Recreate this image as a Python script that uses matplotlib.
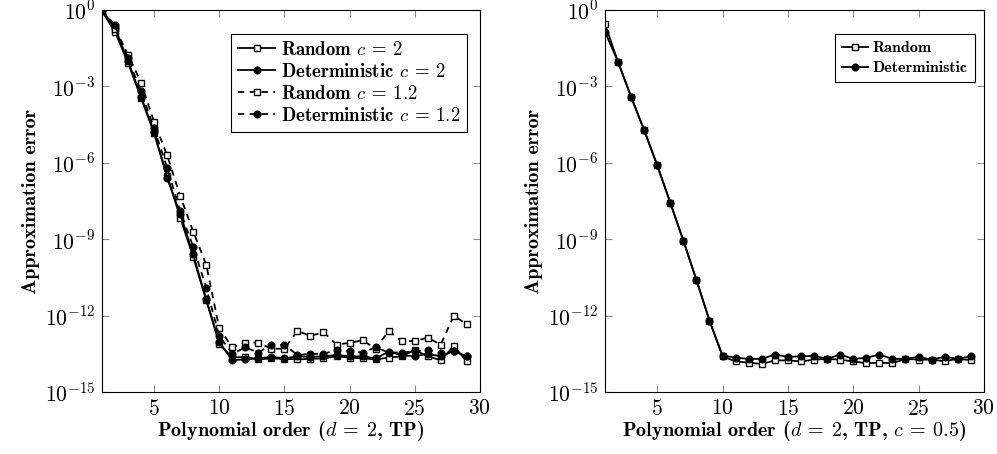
import numpy as np
import matplotlib
matplotlib.use("Agg")
from matplotlib import pyplot as plt

#------------------------------------------#
# Data (log10 of approximation error)
#------------------------------------------#

order = list(range(1, 30))

# left panel, d = 2, TP
rand_c2 = [-0.05, -0.86, -2.08, -3.45, -4.85, -6.5, -8.15, -9.7, -11.4, -13.1,
           -13.65, -13.62, -13.72, -13.68, -13.7, -13.72, -13.7, -13.68, -13.6, -13.65,
           -13.68, -13.72, -13.65, -13.6, -13.35, -13.6, -13.75, -13.2, -13.8]
det_c2 = [0.0, -0.7, -2.0, -3.4, -4.8, -6.6, -8.0, -9.6, -11.35, -13.05,
          -13.75, -13.72, -13.68, -13.62, -13.68, -13.6, -13.62, -13.6, -13.55, -13.6,
          -13.6, -13.68, -13.42, -13.55, -13.6, -13.5, -13.6, -13.4, -13.6]
rand_c12 = [0.05, -0.75, -1.75, -2.85, -4.4, -5.7, -7.3, -8.7, -10.0, -12.5,
            -13.25, -13.06, -13.06, -13.3, -13.3, -12.6, -12.8, -12.65, -13.14, -13.07,
            -12.97, -13.3, -12.6, -13.0, -13.0, -12.87, -13.14, -12.0, -12.35]
det_c12 = [0.0, -0.6, -1.9, -3.2, -4.65, -6.2, -7.9, -9.3, -10.9, -12.8,
           -13.5, -13.25, -13.45, -13.15, -13.15, -13.55, -13.5, -13.5, -13.35, -13.4,
           -13.45, -13.25, -13.45, -13.45, -13.4, -13.35, -13.45, -13.4, -13.6]

# right panel, d = 2, TP, c = 0.5
rand_c05 = [-0.55, -2.04, -3.41, -4.72, -6.1, -7.57, -9.06, -10.6, -12.2, -13.6,
            -13.8, -13.85, -13.9, -13.76, -13.76, -13.8, -13.73, -13.7, -13.73, -13.8,
            -13.87, -13.85, -13.87, -13.7, -13.73, -13.73, -13.79, -13.7, -13.75]
det_c05 = [-0.86, -2.04, -3.41, -4.72, -6.1, -7.57, -9.06, -10.6, -12.2, -13.57,
           -13.65, -13.7, -13.7, -13.53, -13.62, -13.6, -13.58, -13.7, -13.53, -13.7,
           -13.66, -13.53, -13.7, -13.7, -13.62, -13.73, -13.62, -13.7, -13.6]

ytick_exp = [0, -3, -6, -9, -12, -15]
xticks = [5, 10, 15, 20, 25, 30]

#------------------------------------------#
# Style
#------------------------------------------#

plt.rcParams['mathtext.fontset'] = 'cm'
plt.rcParams['font.family'] = 'cmb10'
plt.rcParams['axes.unicode_minus'] = False

lw = 1.3
sq = dict(marker='s', ms=4.6, mfc='white', mec='black', mew=1.0)
ci = dict(marker='o', ms=4.8, mfc='black', mec='black')


def setup(ax, xlabel):
    ax.set_yscale('log')
    ax.set_xlim(1, 30)
    ax.set_ylim(1e-15, 1)
    ax.set_xticks(xticks)
    ax.set_xticklabels([r'$%d$' % t for t in xticks])
    ax.set_yticks([10.0**k for k in ytick_exp])
    ax.set_yticklabels([r'$10^{%d}$' % k for k in ytick_exp])
    ax.yaxis.set_minor_locator(matplotlib.ticker.NullLocator())
    ax.tick_params(direction='in', top=True, right=True, length=5,
                   color='0.55', width=0.8, labelsize=15.5, pad=5)
    for s in ax.spines.values():
        s.set_linewidth(0.8)
    ax.set_xlabel(xlabel, fontsize=14.5, labelpad=0)
    ax.set_ylabel('Approximation error', fontsize=14.5, labelpad=3)


def add_legend(ax, x, y, size, spacing, hl, pad):
    leg = ax.legend(loc='upper right', bbox_to_anchor=(x, y), borderaxespad=0,
                    fancybox=False, edgecolor='black', framealpha=1, fontsize=size,
                    handlelength=hl, handletextpad=0.3, borderpad=pad,
                    labelspacing=spacing)
    leg.get_frame().set_linewidth(0.8)


fig = plt.figure(figsize=(9.97, 4.54), dpi=100)
ax1 = fig.add_axes([0.1023, 0.1366, 0.379, 0.8414])
ax2 = fig.add_axes([0.6068, 0.1366, 0.380, 0.8414])

#------------------------------------------#
# Left panel
#------------------------------------------#

ax1.plot(order, 10.0**np.array(rand_c2), '-', color='black', lw=lw,
         label=r'Random $c\:=\:2$', **sq)
ax1.plot(order, 10.0**np.array(det_c2), '-', color='black', lw=lw,
         label=r'Deterministic $c\:=\:2$', **ci)
ax1.plot(order, 10.0**np.array(rand_c12), '--', color='black', lw=lw, dashes=(3.5, 3),
         label=r'Random $c\:=\:1.2$', **sq)
ax1.plot(order, 10.0**np.array(det_c12), '--', color='black', lw=lw, dashes=(3.5, 3),
         label=r'Deterministic $c\:=\:1.2$', **ci)
setup(ax1, r'Polynomial order ($d\:=\:2$, TP)')
add_legend(ax1, 0.966, 0.937, 13.5, 0.22, 2.0, 0.35)

#------------------------------------------#
# Right panel
#------------------------------------------#

ax2.plot(order, 10.0**np.array(rand_c05), '-', color='black', lw=lw, label='Random', **sq)
ax2.plot(order, 10.0**np.array(det_c05), '-', color='black', lw=lw, label='Deterministic', **ci)
setup(ax2, r'Polynomial order ($d\:=\:2$, TP, $c\:=\:0.5$)')
add_legend(ax2, 0.976, 0.937, 11.5, 0.35, 1.6, 0.45)

fig.savefig('out.png', dpi=100)
